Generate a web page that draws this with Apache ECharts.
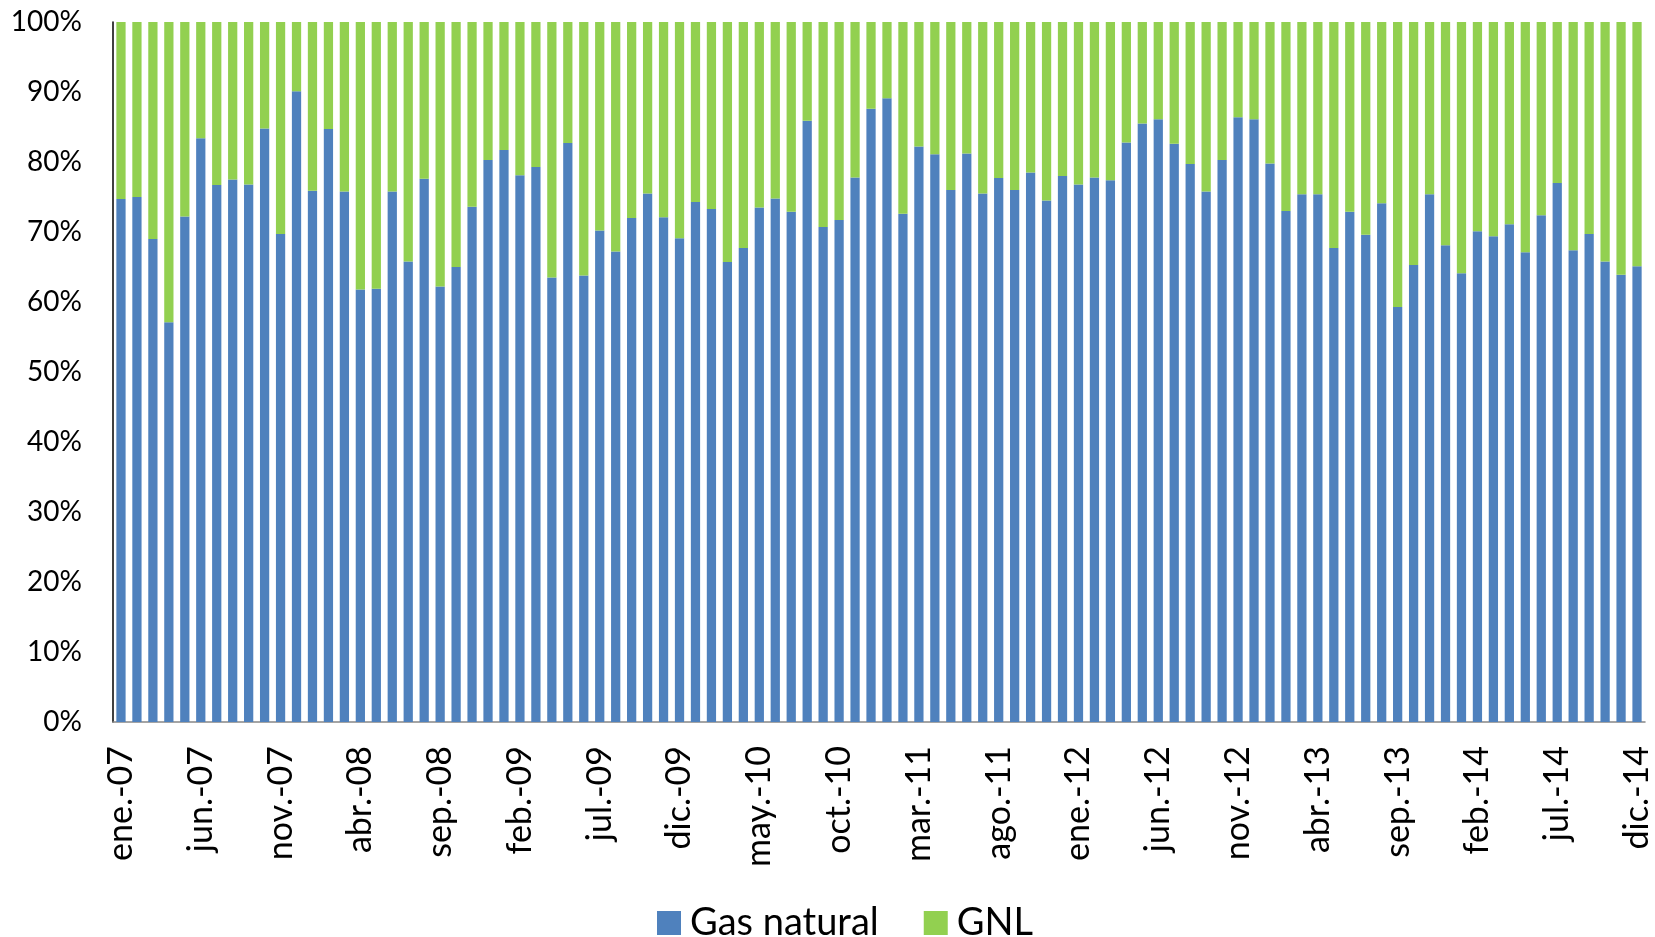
<!DOCTYPE html>
<html>
<head>
<meta charset="utf-8">
<title>Gas natural / GNL</title>
<script src="https://cdn.jsdelivr.net/npm/echarts@6/dist/echarts.min.js"></script>
<style>
  html, body { margin: 0; padding: 0; background: #fff; }
  #chart { width: 1655px; height: 937px; }
</style>
</head>
<body>
<div id="chart"></div>
<script>
// meses y años del eje X (ene.-07 ... dic.-14)
const months = ["ene.", "feb.", "mar.", "abr.", "may.", "jun.", "jul.", "ago.", "sep.", "oct.", "nov.", "dic."];
const years = ["07", "08", "09", "10", "11", "12", "13", "14"];

// % gas natural por mes
const gasNatural = [
  74.7, 75.0, 69.0, 57.1, 72.2, 83.4, 76.7, 77.5, 76.8, 84.8,
  69.7, 90.1, 75.9, 84.7, 75.8, 61.8, 61.9, 75.8, 65.8, 77.6,
  62.2, 65.0, 73.6, 80.3, 81.7, 78.1, 79.3, 63.5, 82.7, 63.8,
  70.2, 67.2, 72.0, 75.5, 72.1, 69.1, 74.3, 73.3, 65.7, 67.7,
  73.5, 74.8, 72.9, 85.9, 70.7, 71.7, 77.8, 87.6, 89.1, 72.6,
  82.2, 81.1, 76.0, 81.2, 75.5, 77.7, 76.0, 78.5, 74.5, 78.0,
  76.8, 77.8, 77.4, 82.8, 85.5, 86.1, 82.6, 79.7, 75.8, 80.3,
  86.4, 86.1, 79.8, 73.0, 75.4, 75.4, 67.7, 72.9, 69.6, 74.1,
  59.3, 65.3, 75.4, 68.1, 64.1, 70.1, 69.4, 71.1, 67.1, 72.4,
  77.0, 67.4, 69.7, 65.8, 63.9, 65.1
];

// % GNL por mes
const gnl = [
  25.3, 25.0, 31.0, 42.9, 27.8, 16.6, 23.3, 22.5, 23.2, 15.2,
  30.3, 9.9, 24.1, 15.3, 24.2, 38.2, 38.1, 24.2, 34.2, 22.4,
  37.8, 35.0, 26.4, 19.7, 18.3, 21.9, 20.7, 36.5, 17.3, 36.2,
  29.8, 32.8, 28.0, 24.5, 27.9, 30.9, 25.7, 26.7, 34.3, 32.3,
  26.5, 25.2, 27.1, 14.1, 29.3, 28.3, 22.2, 12.4, 10.9, 27.4,
  17.8, 18.9, 24.0, 18.8, 24.5, 22.3, 24.0, 21.5, 25.5, 22.0,
  23.2, 22.2, 22.6, 17.2, 14.5, 13.9, 17.4, 20.3, 24.2, 19.7,
  13.6, 13.9, 20.2, 27.0, 24.6, 24.6, 32.3, 27.1, 30.4, 25.9,
  40.7, 34.7, 24.6, 31.9, 35.9, 29.9, 30.6, 28.9, 32.9, 27.6,
  23.0, 32.6, 30.3, 34.2, 36.1, 34.9
];

const categories = [];
years.forEach(function (y) {
  months.forEach(function (m) {
    categories.push(m + "-" + y);
  });
});

const chart = echarts.init(document.getElementById("chart"));

const option = {
  animation: false,
  textStyle: { fontFamily: "Lato" },
  grid: {
    left: 113,
    right: 10,
    top: 22,
    bottom: 215,
  },
  legend: {
    left: 652,
    top: 898,
    itemWidth: 24,
    itemHeight: 24,
    itemGap: 45,
    icon: "rect",
    textStyle: {
      fontSize: 38,
      lineHeight: 40,
      color: "#000",
      fontFamily: "Lato",
      padding: [0, 0, 0, 4],
    },
    data: ["Gas natural", "GNL"],
  },
  xAxis: {
    type: "category",
    data: categories,
    axisTick: { show: false },
    axisLine: { lineStyle: { color: "#868686", width: 1.5 } },
    axisLabel: {
      interval: 4,
      rotate: 90,
      margin: 24,
      fontSize: 34,
      color: "#000",
    },
  },
  yAxis: {
    type: "value",
    min: 0,
    max: 100,
    interval: 10,
    axisLine: { show: true, lineStyle: { color: "#000", width: 1.5 } },
    axisTick: { show: false },
    splitLine: { show: false },
    axisLabel: {
      formatter: "{value}%",
      margin: 31,
      fontSize: 28,
      color: "#000",
    },
  },
  series: [
    {
      name: "Gas natural",
      type: "bar",
      stack: "total",
      barCategoryGap: "42%",
      itemStyle: { color: "#4F81BD" },
      data: gasNatural,
    },
    {
      name: "GNL",
      type: "bar",
      stack: "total",
      barCategoryGap: "42%",
      itemStyle: { color: "#92D050" },
      data: gnl,
    },
  ],
};

chart.setOption(option);
</script>
</body>
</html>
